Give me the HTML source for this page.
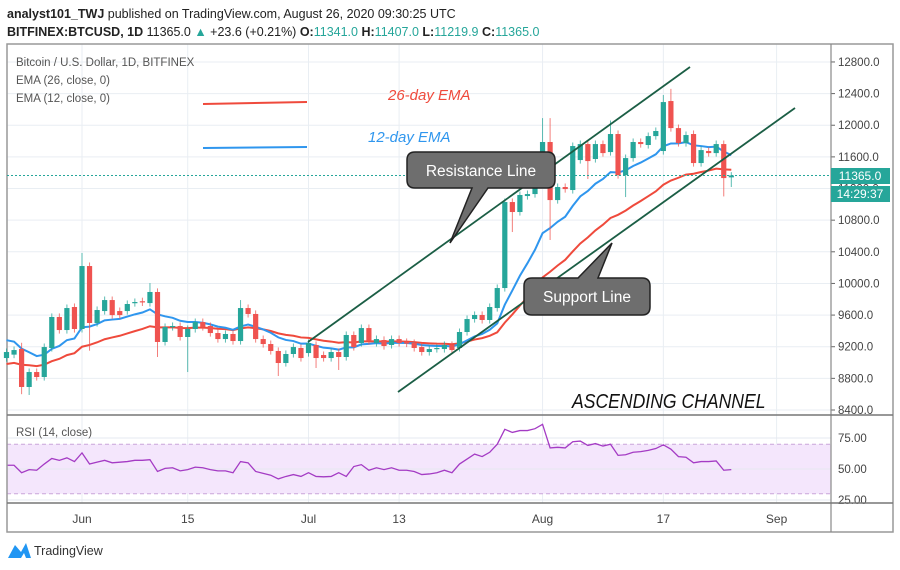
<!DOCTYPE html>
<html><head><meta charset="utf-8"><style>
body{margin:0;background:#fff;width:900px;height:570px;overflow:hidden;font-family:"Liberation Sans",sans-serif}
svg{display:block}
</style></head><body>
<svg id="c" width="900" height="570" font-family="Liberation Sans, sans-serif"></svg>
<script>
const days=[];for(let d=-10;d<=86;d++)days.push(d);
const opens=[9057,9100,9171,8691,8880,8817,9184,9576,9411,9702,9424,10220,9500,9651,9790,9651,9651,9752,9775,9752,9892,9260,9449,9462,9323,9424,9512,9462,9373,9297,9361,9272,9689,9614,9297,9234,9146,8994,9108,
9184,9120,9222,9095,9057,9133,9070,9348,9247,9436,9247,9285,9222,9297,9260,9247,9196,9133,9171,9171,9222,9184,9386,9550,9601,9538,9689,9942,11029,10903,11105,11130,11358,11788,11054,11219,
11181,11560,11762,11573,11762,11661,11889,11370,11585,11788,11750,11863,11674,12306,11964,11775,11889,11522,11674,11648,11762,11341];
const closes=[9133,9158,8691,8880,8817,9196,9576,9411,9689,9424,10220,9500,9664,9790,9600,9600,9740,9765,9760,9892,9260,9449,9462,9323,9424,9512,9449,9373,9297,9361,9272,9689,9614,9297,9234,9146,8994,9108,9196,
9057,9247,9057,9057,9133,9070,9348,9196,9436,9272,9297,9209,9297,9247,9240,9184,9133,9171,9184,9222,9158,9386,9550,9601,9538,9702,9942,11029,10903,11118,11130,11358,11788,11054,11219,11193,
11737,11762,11547,11762,11648,11889,11370,11585,11788,11762,11863,11927,12293,11964,11775,11876,11522,11686,11648,11762,11332,11365];
const highsOverride={2:9250,10:10385,19:10005,31:9790,71:12090,72:12090,80:12060,87:12382,88:12460,96:11407};
const lowsOverride={2:8600,3:8590,11:9150,20:9070,24:8880,36:8830,41:8931,44:8906,67:10650,72:10549,77:11320,82:11092,95:11100,96:11219};
const rsi=[53,53,47,49.5,49,54,58.5,57,59,56,63,54,55.5,57,55,55.5,56,57,57,57.5,48,50.5,51,48.5,49.5,51.5,51,49.5,48.5,48.5,47,56,55,48,46.5,45,42,44,45.5,44,47,44,43.7,44,47,44,52,53.5,49,51,49.5,51,49,49,48,45.5,46,47,49,47,54,58,62,60,63.5,70,82,79.5,81,81,82.5,86,67,67.5,67,72,72.5,69,70.5,68.5,70,61,61.5,63.5,64,65,66.5,69.5,66,60,59.5,55,56,56,56.5,49,49.5];
const priceTicks=[8400,8800,9200,9600,10000,10400,10800,11200,11600,12000,12400,12800];
const dateTicks=[[0,"Jun"],[14,"15"],[30,"Jul"],[42,"13"],[61,"Aug"],[77,"17"],[92,"Sep"]];
const rsiTicks=[25,50,75];
const ema12Seed=9310, ema26Seed=8970;

const NS="http://www.w3.org/2000/svg",svg=document.getElementById('c');
function el(t,a,p){const e=document.createElementNS(NS,t);for(const k in a)e.setAttribute(k,a[k]);(p||svg).appendChild(e);return e;}
const X=d=>82+d*7.55, Y=p=>410-(p-8400)*0.0791, RY=v=>469-(v-50)*1.24;
const PL=7,PR=831,PT=44,PB=415,RB=503,XB=532;

let t=el('text',{x:7,y:18,'font-size':12.5,fill:'#222'});

t.innerHTML='<tspan font-weight="bold">analyst101_TWJ</tspan> published on TradingView.com, August 26, 2020 09:30:25 UTC';
t=el('text',{x:7,y:36,'font-size':12.5,fill:'#222'});

t.innerHTML='<tspan font-weight="bold">BITFINEX:BTCUSD, 1D</tspan> 11365.0 <tspan fill="#26a69a">▲</tspan> +23.6 (+0.21%) <tspan font-weight="bold">O:</tspan><tspan fill="#26a69a">11341.0</tspan> <tspan font-weight="bold">H:</tspan><tspan fill="#26a69a">11407.0</tspan> <tspan font-weight="bold">L:</tspan><tspan fill="#26a69a">11219.9</tspan> <tspan font-weight="bold">C:</tspan><tspan fill="#26a69a">11365.0</tspan>';

// grid
priceTicks.forEach(p=>{let g=el('line',{x1:PL,x2:PR,y1:Y(p),y2:Y(p),stroke:'#e9eef3'});
 let l=el('line',{x1:PR,x2:PR+4,y1:Y(p),y2:Y(p),stroke:'#666'});
 let tx=el('text',{x:838,y:Y(p)+4,'font-size':11.5,fill:'#444'});tx.textContent=p.toFixed(1);});
dateTicks.forEach(([d,s])=>{let g=el('line',{x1:X(d),x2:X(d),y1:PT,y2:RB,stroke:'#e9eef3'});
 let tx=el('text',{x:X(d),y:523,'font-size':12,fill:'#444','text-anchor':'middle'});tx.textContent=s;});

// RSI pane
let band=el('rect',{x:PL,y:RY(70),width:PR-PL,height:RY(30)-RY(70),fill:'#f4e6fc'});
[70,30].forEach(v=>el('line',{x1:PL,x2:PR,y1:RY(v),y2:RY(v),stroke:'#c9a6d9','stroke-dasharray':'4,3'}));
rsiTicks.forEach(v=>{el('line',{x1:PL,x2:PR,y1:RY(v),y2:RY(v),stroke:'#e6e8f0'});
 let tx=el('text',{x:838,y:RY(v)+4,'font-size':11.5,fill:'#444'});tx.textContent=v.toFixed(2);});
let rp=el('polyline',{points:rsi.map((v,i)=>X(days[i])+','+RY(v)).join(' '),fill:'none',stroke:'#a43bc4','stroke-width':1.3});

t=el('text',{x:16,y:436,'font-size':11.5,fill:'#555'});t.textContent='RSI (14, close)';

// frames
el('rect',{x:PL,y:PT,width:886,height:XB-PT,fill:'none',stroke:'#999','stroke-width':1.5});
el('line',{x1:PR,x2:PR,y1:PT,y2:XB,stroke:'#888','stroke-width':1.2});
el('line',{x1:PL,x2:893,y1:PB,y2:PB,stroke:'#777','stroke-width':1.5});
el('line',{x1:PL,x2:893,y1:RB,y2:RB,stroke:'#777','stroke-width':1.5});

// EMAs
function ema(seed,n){let k=2/(n+1),e=seed;return closes.map(c=>e=c*k+e*(1-k));}
const e12=ema(ema12Seed,12),e26=ema(ema26Seed,26);
let l26=el('polyline',{points:e26.map((v,i)=>X(days[i])+','+Y(v)).join(' '),fill:'none',stroke:'#ef4a3c','stroke-width':2});

let l12=el('polyline',{points:e12.map((v,i)=>X(days[i])+','+Y(v)).join(' '),fill:'none',stroke:'#2f96ee','stroke-width':2});


// candles
days.forEach((d,i)=>{const o=opens[i],c=closes[i],up=c>=o,col=up?'#26a69a':'#ef5350';
 const h=highsOverride[i]||Math.max(o,c)+45,lo=lowsOverride[i]||Math.min(o,c)-45;
 const g=el('g',{});
 el('line',{x1:X(d),x2:X(d),y1:Y(h),y2:Y(lo),stroke:col,'stroke-width':1,opacity:0.75},g);
 const yt=Y(Math.max(o,c));el('rect',{x:X(d)-2.6,y:yt,width:5.2,height:Math.max(1.2,Y(Math.min(o,c))-yt),fill:col},g);});

// last price line
let lp=el('line',{x1:PL,x2:PR,y1:Y(11365),y2:Y(11365),stroke:'#26a69a','stroke-dasharray':'2,2'});
let b1=el('rect',{x:831,y:168,width:59,height:16,fill:'#26a69a'});
t=el('text',{x:860,y:180,'font-size':12,fill:'#fff','text-anchor':'middle'});t.textContent='11365.0';
el('rect',{x:831,y:186,width:59,height:16,fill:'#26a69a'});
t=el('text',{x:860,y:198,'font-size':12,fill:'#fff','text-anchor':'middle'});t.textContent='14:29:37';

// legend
t=el('text',{x:16,y:66,'font-size':11.5,fill:'#555'});t.textContent='Bitcoin / U.S. Dollar, 1D, BITFINEX';
t=el('text',{x:16,y:84,'font-size':11.5,fill:'#555'});t.textContent='EMA (26, close, 0)';
t=el('text',{x:16,y:102,'font-size':11.5,fill:'#555'});t.textContent='EMA (12, close, 0)';

// annotations
el('line',{x1:203,y1:104,x2:307,y2:102,stroke:'#ef4a3c','stroke-width':2});
t=el('text',{x:388,y:100,'font-size':15,fill:'#ef4a3c','font-style':'italic'});t.textContent='26-day EMA';
el('line',{x1:203,y1:148,x2:307,y2:147,stroke:'#2f96ee','stroke-width':2});
t=el('text',{x:368,y:142,'font-size':15,fill:'#2f96ee','font-style':'italic'});t.textContent='12-day EMA';

let ch=el('g',{});
el('line',{x1:308,y1:342,x2:690,y2:67,stroke:'#1b5e45','stroke-width':1.8},ch);
el('line',{x1:398,y1:392,x2:795,y2:108,stroke:'#1b5e45','stroke-width':1.8},ch);

let rc=el('g',{});
el('path',{d:'M415,152 H547 Q555,152 555,160 V180 Q555,188 547,188 H488 L450,243 L472,188 H415 Q407,188 407,180 V160 Q407,152 415,152 Z',fill:'#6e6e6e',stroke:'#222','stroke-width':1.5},rc);
t=el('text',{x:481,y:176,'font-size':15.5,fill:'#fff','text-anchor':'middle'},rc);t.textContent='Resistance Line';
let sc=el('g',{});
el('path',{d:'M532,278 H578 L612,243 L598,278 H642 Q650,278 650,286 V307 Q650,315 642,315 H532 Q524,315 524,307 V286 Q524,278 532,278 Z',fill:'#6e6e6e',stroke:'#222','stroke-width':1.5},sc);
t=el('text',{x:587,y:302,'font-size':15.5,fill:'#fff','text-anchor':'middle'},sc);t.textContent='Support Line';

t=el('text',{x:0,y:0,'font-size':20,fill:'#111','font-style':'italic',transform:'translate(572,408) scale(0.88,1)'});t.textContent='ASCENDING CHANNEL';

// logo
let lg=el('g',{});
el('path',{d:'M8,558 L15,545 L21,552 L26,543 L31,558 L26,558 L24,553 L21,558 Z',fill:'#2196f3'},lg);
t=el('text',{x:34,y:555,'font-size':12.5,fill:'#333'},lg);t.textContent='TradingView';
</script>
</body></html>
